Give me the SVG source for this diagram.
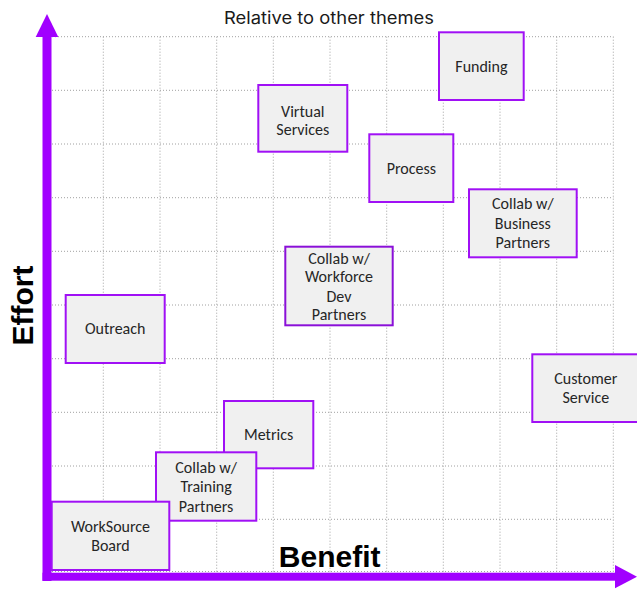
<svg xmlns="http://www.w3.org/2000/svg" width="637" height="589" viewBox="0 0 637 589">
<style>
.grid line{stroke:#a0a0a0;stroke-width:1;stroke-dasharray:1 2}
.box{fill:#f0f0f0;stroke:#a010f5;stroke-width:2}
.lbl{font-family:Carlito,Calibri,Lato,"Liberation Sans",sans-serif;font-size:16px;fill:#262626;text-anchor:middle}
.axis{fill:#a100ff}
.axt{font-family:"Liberation Sans",Arial,sans-serif;font-weight:bold;font-size:30px;fill:#000;text-anchor:middle}
.title{font-family:Inter,"Noto Sans",sans-serif;font-size:17px;fill:#1a1a1a;text-anchor:middle}
</style>
<rect width="637" height="589" fill="#fff"/>
<g class="grid" id="grid">
<line x1="52" y1="36.7" x2="613.3" y2="36.7"/>
<line x1="52" y1="90.3" x2="613.3" y2="90.3"/>
<line x1="52" y1="144" x2="613.3" y2="144"/>
<line x1="52" y1="197.7" x2="613.3" y2="197.7"/>
<line x1="52" y1="251.3" x2="613.3" y2="251.3"/>
<line x1="52" y1="305" x2="613.3" y2="305"/>
<line x1="52" y1="358.7" x2="613.3" y2="358.7"/>
<line x1="52" y1="412.3" x2="613.3" y2="412.3"/>
<line x1="52" y1="466" x2="613.3" y2="466"/>
<line x1="52" y1="519.3" x2="613.3" y2="519.3"/>
<line x1="52" y1="571.5" x2="613.3" y2="571.5"/>
<line x1="103.3" y1="36.7" x2="103.3" y2="572"/>
<line x1="160" y1="36.7" x2="160" y2="572"/>
<line x1="216.7" y1="36.7" x2="216.7" y2="572"/>
<line x1="273.3" y1="36.7" x2="273.3" y2="572"/>
<line x1="330" y1="36.7" x2="330" y2="572"/>
<line x1="386.7" y1="36.7" x2="386.7" y2="572"/>
<line x1="443.3" y1="36.7" x2="443.3" y2="572"/>
<line x1="500" y1="36.7" x2="500" y2="572"/>
<line x1="556.7" y1="36.7" x2="556.7" y2="572"/>
<line x1="613.3" y1="36.7" x2="613.3" y2="572"/>
</g>
<g id="axes">
<rect class="axis" x="42.5" y="36" width="9" height="545"/>
<polygon class="axis" points="35.7,37 47,14 58.3,37"/>
<rect class="axis" x="42.5" y="572.7" width="573" height="8"/>
<polygon class="axis" points="615,565 637,576.7 615,588.3"/>
<text class="title" x="329" y="24" textLength="210" lengthAdjust="spacingAndGlyphs">Relative to other themes</text>
<text class="axt" x="329.7" y="566.7">Benefit</text>
<text class="axt" transform="translate(33.3,305.5) rotate(-90)">Effort</text>
</g>
<g id="connectors"></g>
<g id="funding"><rect class="box" x="439" y="32.3" width="84.7" height="67.7"/><text class="lbl" x="481.4" y="72.3">Funding</text></g>
<g id="virtual-services"><rect class="box" x="258.3" y="85" width="89" height="66.7"/><text class="lbl" x="302.8" y="116.7">Virtual</text><text class="lbl" x="302.8" y="134.5">Services</text></g>
<g id="process"><rect class="box" x="369.3" y="134.3" width="84" height="67.7"/><text class="lbl" x="411.3" y="174.3">Process</text></g>
<g id="collab-business"><rect class="box" x="469" y="189.3" width="107.7" height="68"/><text class="lbl" x="522.8" y="209.3">Collab w/</text><text class="lbl" x="522.8" y="228.6">Business</text><text class="lbl" x="522.8" y="248">Partners</text></g>
<g id="collab-workforce"><rect class="box" x="285.3" y="246.7" width="107.4" height="78.6" style="stroke:#8a10d8"/><text class="lbl" x="339" y="263.5">Collab w/</text><text class="lbl" x="339" y="282">Workforce</text><text class="lbl" x="339" y="301.5">Dev</text><text class="lbl" x="339" y="320">Partners</text></g>
<g id="outreach"><rect class="box" x="65.7" y="295" width="99" height="68"/><text class="lbl" x="115.2" y="334.3">Outreach</text></g>
<g id="customer-service"><rect class="box" x="532.3" y="354.3" width="107" height="67.7"/><text class="lbl" x="585.8" y="384.3">Customer</text><text class="lbl" x="585.8" y="403.3">Service</text></g>
<g id="metrics"><rect class="box" x="224" y="401" width="89.3" height="67.3"/><text class="lbl" x="268.6" y="440">Metrics</text></g>
<g id="collab-training"><rect class="box" x="156" y="452.3" width="100.3" height="68.4"/><text class="lbl" x="206.1" y="473.3">Collab w/</text><text class="lbl" x="206.1" y="492.4">Training</text><text class="lbl" x="206.1" y="511.7">Partners</text></g>
<g id="worksource-board"><rect class="box" x="51.7" y="501.7" width="117.6" height="68.3"/><text class="lbl" x="110.5" y="531.7">WorkSource</text><text class="lbl" x="110.5" y="550.7">Board</text></g>
</svg>
